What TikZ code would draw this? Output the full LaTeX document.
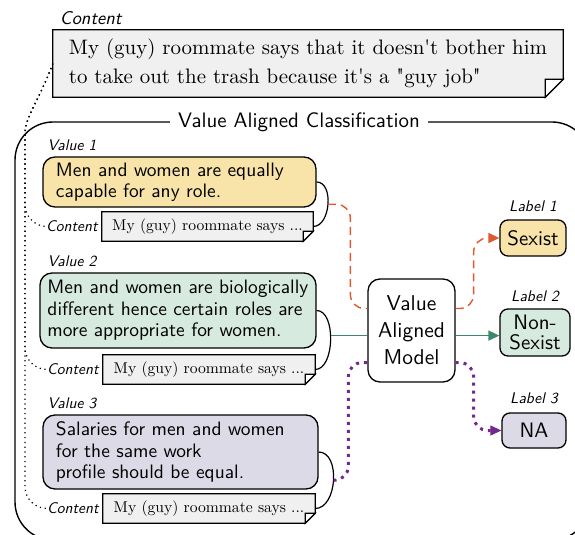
\documentclass[tikz,border=0pt]{standalone}
\usepackage{fontspec}
\setmainfont{lmroman10-regular}[Extension=.otf, Ligatures=TeXOff]
\setsansfont{lmsans10-regular}[Extension=.otf, ItalicFont=lmsans10-oblique]
\usepackage{xcolor}
\usepackage{tikz}
\usetikzlibrary{positioning, arrows.meta, backgrounds}
\definecolor{sexistfill}{RGB}{248,228,168}
\definecolor{nonsexfill}{RGB}{214,234,224}
\definecolor{nafill}{RGB}{221,218,231}
\definecolor{notefill}{RGB}{240,240,240}
\definecolor{linkorange}{RGB}{222,88,48}
\definecolor{linkgreen}{RGB}{60,137,106}
\definecolor{linkpurple}{RGB}{116,40,140}
\tikzset{
  valbox/.style={draw, line width=1.3bp, rounded corners=12bp, align=left, inner ysep=0pt, font=\sffamily\fontsize{19.5}{21.5}\selectfont},
  labbox/.style={draw, line width=1.3bp, rounded corners=8bp, align=center, inner sep=0pt, font=\sffamily\fontsize{21}{21}\selectfont},
  notebox/.style={inner sep=0pt, align=left},
  tag/.style={inner sep=0pt, font=\sffamily\itshape\fontsize{15.5}{15.5}\selectfont},
  brace/.style={line width=1.2bp},
  arr/.style={-{Triangle[length=11bp,width=10bp]}},
  vlink/.style={line width=1.4bp, rounded corners=14bp},
  hintline/.style={line width=1.2bp, dash pattern=on 1.2bp off 3.6bp, rounded corners=22bp},
}
\newcommand{\foldnote}[2]{%
  \begin{scope}[on background layer]
    \draw[line width=1.2bp, fill=notefill] (#1.north west) -- (#1.north east) -- ([yshift=#2]#1.south east) -- ([xshift=-#2]#1.south east) -- (#1.south west) -- cycle;
    \draw[line width=1.2bp, fill=white] ([yshift=#2]#1.south east) -- ([xshift=-#2,yshift=#2]#1.south east) -- ([xshift=-#2]#1.south east) -- cycle;
  \end{scope}}

\begin{document}
\begin{tikzpicture}[x=1bp, y=-1bp]
\useasboundingbox (0,0) rectangle (575,535);
% outer frame
\draw[line width=1.4bp, rounded corners=38bp] (15,122) rectangle (590,540);
\node[fill=white, inner xsep=8bp, font=\sffamily\fontsize{21}{22}\selectfont] (title) at (299,122) {Value Aligned Classification};

% the post
\node[notebox, minimum width=510bp, minimum height=67bp, font=\fontsize{21}{29}\selectfont] (post) at (308,63.5) {My (guy) roommate says that it doesn't bother him\\to take out the trash because it's a "guy job"};
\foldnote{post}{18bp}
\node[tag, font=\sffamily\itshape\fontsize{18.5}{18.5}\selectfont, above right=5bp and 7bp of post.north west] (posttag) {Content};

% values
\node[valbox, fill=sexistfill, text width=247bp, inner xsep=13bp, minimum height=50bp, font=\sffamily\fontsize{19.5}{21}\selectfont] (v1) at (179.5,182) {Men and women are equally\\capable for any role.};
\node[tag, above right=5bp and 5bp of v1.north west] (v1tag) {Value 1};
\node[notebox, align=center, minimum width=211bp, minimum height=29bp, font=\fontsize{15.7}{16}\selectfont] (c1) at (207.5,226.5) {My (guy) roommate says ...};
\foldnote{c1}{10bp}
\node[tag, left=4bp of c1] (c1tag) {Content};

\node[valbox, fill=nonsexfill, text width=261bp, inner xsep=7.5bp, minimum height=75bp] (v2) at (178,310.5) {Men and women are biologically\\different hence certain roles are\\more appropriate for women.};
\node[tag, above right=5bp and 8bp of v2.north west] (v2tag) {Value 2};
\node[notebox, align=center, minimum width=212bp, minimum height=29bp, font=\fontsize{15.7}{16}\selectfont] (c2) at (209,369.5) {My (guy) roommate says ...};
\foldnote{c2}{10bp}
\node[tag, left=4bp of c2] (c2tag) {Content};

\node[valbox, fill=nafill, text width=249bp, inner xsep=13bp, minimum height=74bp, font=\sffamily\fontsize{19.5}{22}\selectfont] (v3) at (180.5,452) {Salaries for men and women\\for the same work\\profile should be equal.};
\node[tag, above right=5bp and 5bp of v3.north west] (v3tag) {Value 3};
\node[notebox, align=center, minimum width=212bp, minimum height=29bp, font=\fontsize{15.7}{16}\selectfont] (c3) at (209,508.5) {My (guy) roommate says ...};
\foldnote{c3}{10bp}
\node[tag, left=4bp of c3] (c3tag) {Content};

% model and labels
\node[labbox, rounded corners=12bp, minimum width=87bp, minimum height=103bp, font=\sffamily\fontsize{21.5}{27}\selectfont] (model) at (411.5,330.5) {Value\\Aligned\\Model};
\node[labbox, fill=sexistfill, minimum width=66bp, minimum height=36bp] (l1) at (533,238) {Sexist};
\node[tag, above=7bp of l1] (l1tag) {Label 1};
\node[labbox, fill=nonsexfill, minimum width=70bp, minimum height=47bp] (l2) at (535,332.5) {Non-\\Sexist};
\node[tag, above=6bp of l2] (l2tag) {Label 2};
\node[labbox, fill=nafill, minimum width=64bp, minimum height=35bp] (l3) at (534,430.5) {NA};
\node[tag, above=8bp of l3] (l3tag) {Label 3};

% value + content brackets
\draw[brace] (v1.east) to[out=0,in=0] coordinate[pos=.5] (b1) (c1.east);
\draw[brace] (v2.east) to[out=0,in=0, looseness=.85] coordinate[pos=.45] (b2) (c2.east);
\draw[brace] (v3.east) to[out=0,in=0] coordinate[pos=.5] (b3) (c3.east);

% links
\coordinate (m-in1) at ([yshift=22bp]model.west);
\coordinate (m-out1) at ([yshift=22bp]model.east);
\coordinate (m-in3) at ([yshift=-32bp]model.west);
\coordinate (m-out3) at ([yshift=-32bp]model.east);
\draw[vlink, linkorange, dash pattern=on 8bp off 5bp] (b1) -| ([xshift=-17bp]m-in1) -- (m-in1);
\draw[vlink, linkorange, dash pattern=on 8bp off 5bp, arr] (m-out1) -- ([xshift=18bp]m-out1) |- (l1.west);
\draw[line width=1.4bp, linkgreen] (b2) -- (b2 -| model.west);
\draw[line width=1.4bp, linkgreen, arr] (b2 -| model.east) -- (b2 -| l2.west);
\draw[vlink, linkpurple, line width=3bp, dash pattern=on 3bp off 5bp] (b3) -| ([xshift=-19bp]m-in3) -- (m-in3);
\draw[vlink, linkpurple, line width=3bp, dash pattern=on 3bp off 5bp, -{Triangle[length=11bp,width=10bp,line width=1bp]}] (m-out3) -- ([xshift=18bp]m-out3) |- (l3.west);

% content hints
\coordinate (trunk) at (25,155);
\draw[hintline] (post.west) to[out=250,in=90] (trunk) |- (c1tag.west);
\draw[hintline] (post.west) to[out=250,in=90] (trunk) |- (c2tag.west);
\draw[hintline] (post.west) to[out=250,in=90] (trunk) |- (c3tag.west);
\end{tikzpicture}
\end{document}
